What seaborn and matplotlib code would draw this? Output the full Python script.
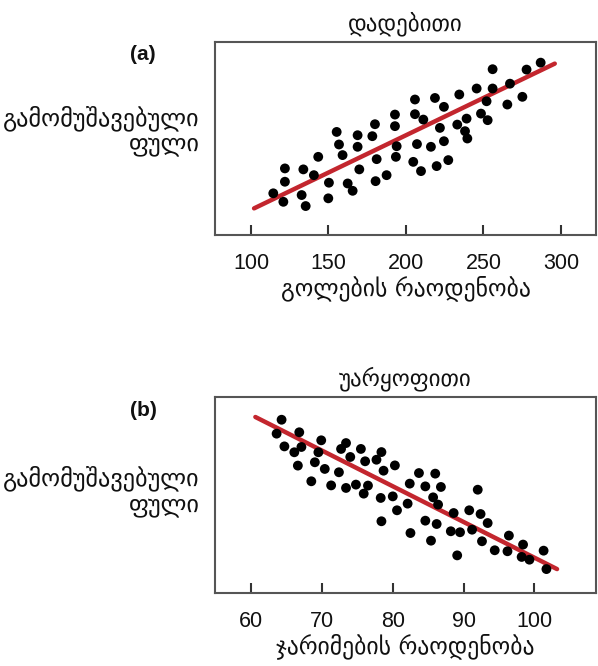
import numpy as np
import pandas as pd
import matplotlib
matplotlib.use("Agg")
import matplotlib.pyplot as plt
import seaborn as sns

# panel (a): goals vs money (positive)
goals = [114.4, 121.9, 121.9, 120.9, 133.8, 132.7, 135.3, 140.6, 143.4, 150.3,
         149.9, 155.3, 156.8, 159.1, 162.4, 165.6, 168.8, 168.8, 169.9, 178.3,
         180.0, 181.1, 180.4, 187.5, 192.9, 192.9, 194.0, 193.5, 205.8, 205.8,
         211.2, 207.1, 204.7, 209.7, 218.7, 224.5, 221.9, 216.1, 224.5, 219.8,
         227.3, 234.4, 233.1, 239.1, 238.1, 239.6, 245.6, 248.4, 252.0, 252.7,
         255.9, 255.9, 267.1, 265.4, 275.1, 277.8, 286.9]
money_a = [21.6, 34.5, 27.6, 17.2, 34.0, 20.7, 15.0, 31.0, 40.5, 27.1,
           19.0, 53.4, 46.9, 41.4, 26.7, 22.9, 51.7, 45.7, 34.0, 51.2,
           57.4, 39.3, 27.9, 31.0, 62.4, 56.4, 46.0, 40.5, 70.2, 62.6,
           59.8, 47.1, 37.9, 33.1, 71.0, 66.4, 55.5, 45.7, 48.6, 35.7,
           38.8, 72.8, 57.2, 60.3, 53.8, 50.0, 75.9, 62.9, 69.3, 59.5,
           85.9, 75.9, 78.4, 67.6, 71.6, 85.7, 89.3]
trend_a_x = [102, 296]
trend_a_y = [13.8, 88.8]

# panel (b): penalties vs money (negative)
penalties = [64.3, 63.6, 64.7, 66.8, 67.1, 66.1, 66.6, 68.5, 69.0, 69.5,
             69.9, 70.4, 71.3, 72.4, 72.7, 73.4, 73.4, 74.0, 74.8, 75.5,
             76.1, 76.5, 75.9, 77.7, 78.4, 78.7, 78.3, 78.4, 80.0, 80.3,
             80.6, 82.1, 82.4, 82.5, 83.7, 84.6, 86.0, 86.8, 85.7, 86.4,
             84.6, 86.2, 85.4, 88.6, 88.2, 89.5, 89.1, 90.8, 92.0, 91.2,
             92.4, 93.4, 92.6, 94.4, 96.2, 96.4, 98.4, 98.2, 99.3, 101.3,
             101.7]
money_b = [88.4, 81.3, 74.8, 82.0, 74.5, 71.8, 65.0, 57.0, 66.7, 71.8,
           77.9, 63.3, 54.9, 61.6, 73.5, 76.5, 53.6, 69.4, 55.3, 73.5,
           67.2, 54.8, 50.7, 68.0, 71.9, 62.4, 48.5, 36.6, 49.3, 65.1,
           42.2, 45.6, 55.8, 30.6, 61.2, 54.4, 60.9, 54.1, 48.8, 45.1,
           36.9, 35.2, 26.7, 40.8, 31.5, 31.0, 19.2, 42.2, 52.7, 32.3,
           40.3, 35.7, 26.4, 21.8, 21.3, 29.3, 24.7, 18.4, 17.0, 21.6,
           12.2]
trend_b_x = [60.6, 103.2]
trend_b_y = [89.8, 12.2]

titles = ["დადებითი", "უარყოფითი"]
xlabels = ["გოლების რაოდენობა", "ჯარიმების რაოდენობა"]
ylabel_lines = ["გამომუშავებული", "ფული"]
panel_tags = ["(a)", "(b)"]

sns.set_style("white")
plt.rcParams["font.family"] = ["Liberation Sans", "DejaVu Sans"]

W, H = 598, 666
fig = plt.figure(figsize=(W / 100, H / 100), dpi=100)

def px_axes(left, top, right, bottom):
    return fig.add_axes([left / W, 1 - bottom / H, (right - left) / W, (bottom - top) / H])

ax_a = px_axes(215, 42, 596, 235)
ax_b = px_axes(215, 397, 596, 593)

red = "#c3262e"
geo = ["DejaVu Sans"]
ink = "#111111"

panels = [
    (ax_a, goals, money_a, trend_a_x, trend_a_y, (76.8, 322.6), [100, 150, 200, 250, 300]),
    (ax_b, penalties, money_b, trend_b_x, trend_b_y, (54.9, 108.7), [60, 70, 80, 90, 100]),
]

for i, (ax, xs, ys, tx, ty, xlim, ticks) in enumerate(panels):
    df = pd.DataFrame({"x": xs, "y": ys})
    sns.scatterplot(data=df, x="x", y="y", ax=ax, color="black", s=50,
                    edgecolor="none", zorder=3)
    sns.lineplot(x=tx, y=ty, ax=ax, color=red, linewidth=3.2, zorder=2)
    ax.set_xlim(*xlim)
    ax.set_ylim(0, 100)
    ax.set_xticks(ticks)
    ax.set_xticklabels([str(t) for t in ticks], fontsize=15.5, color=ink)
    ax.set_yticks([])
    ax.tick_params(axis="x", direction="in", length=7, width=1.5, pad=13,
                   bottom=True, color="#333333")
    ax.set_xlabel(xlabels[i], fontsize=17, family=geo, labelpad=1, color=ink)
    ax.set_ylabel("")
    ax.set_title(titles[i], fontsize=16.5, family=geo, pad=8, color=ink)
    for sp in ax.spines.values():
        sp.set_visible(True)
        sp.set_color("#555555")
        sp.set_linewidth(1.5)

# y labels (two right-aligned lines) and panel tags
for y1, y2 in [(118, 145), (478, 506)]:
    fig.text(200 / W, 1 - y1 / H, ylabel_lines[0], ha="right", va="center",
             fontsize=17.5, family=geo, color=ink)
    fig.text(200 / W, 1 - y2 / H, ylabel_lines[1], ha="right", va="center",
             fontsize=17.5, family=geo, color=ink)

for tag, ty_px in zip(panel_tags, [55, 411]):
    fig.text(143 / W, 1 - ty_px / H, tag, ha="center", va="center",
             fontsize=15, fontweight="bold", color=ink)

fig.savefig("out.png", dpi=100, facecolor="white")
